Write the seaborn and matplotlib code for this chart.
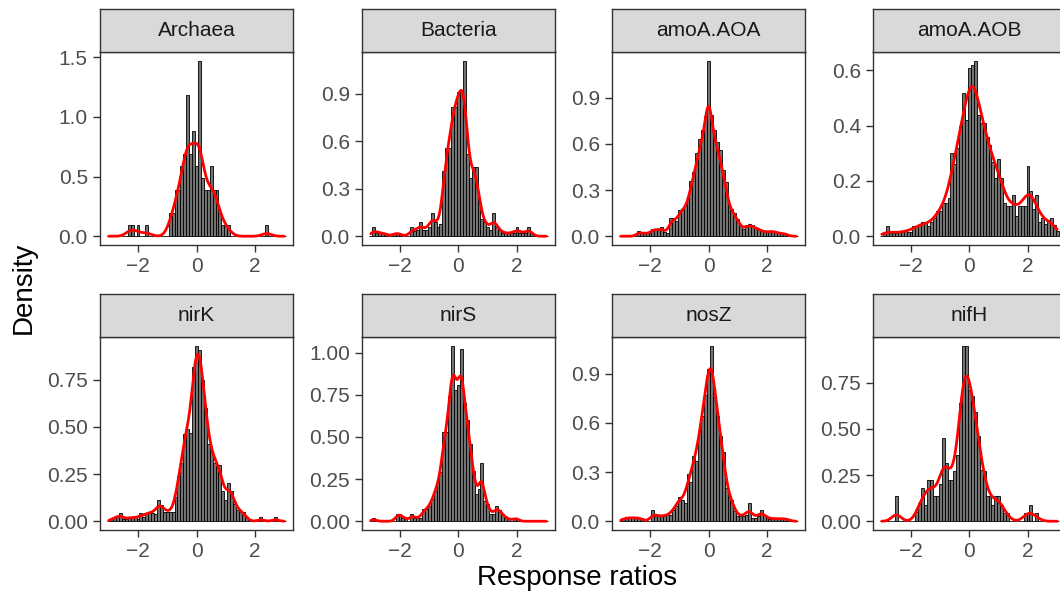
import numpy as np
import pandas as pd
import matplotlib
matplotlib.use("Agg")
import matplotlib.pyplot as plt
import seaborn as sns

# facet order, as in the reference
genes = ["Archaea", "Bacteria", "amoA.AOA", "amoA.AOB", "nirK", "nirS", "nosZ", "nifH"]

# histogram bins: width 0.1, centred on -3.0 ... 3.0
bin_centers = np.round(np.arange(-30, 31) * 0.1, 1)

# bar heights (density), one value per bin from -3.0 to 3.0
archaea = [0, 0, 0, 0, 0, 0, 0, 0.098, 0.098, 0, 0.098, 0, 0, 0.098, 0,
           0, 0, 0, 0, 0, 0,
           0.196, 0.196, 0.39, 0.39, 0.59, 0.69, 1.18, 0.69, 0.88, 0.59,
           1.47, 0.49, 0.39, 0.39, 0.59, 0.39, 0.39, 0.196, 0.098, 0.098, 0.098,
           0, 0, 0, 0, 0, 0, 0, 0, 0, 0, 0, 0, 0.098, 0, 0, 0, 0, 0, 0]
bacteria = [0, 0.06, 0.02, 0.02, 0.02, 0.02, 0, 0, 0.02, 0.02, 0.02, 0, 0, 0,
            0.06, 0.03, 0.04, 0.09, 0.04, 0.04, 0.06, 0.15, 0.09, 0.06, 0.08,
            0.41, 0.56, 0.56, 0.82, 0.82, 0.91, 0.91, 1.11, 0.52, 0.37, 0.44,
            0.44, 0.24, 0.11, 0.09, 0.06, 0.04, 0.15, 0.06, 0.04, 0.02, 0.02,
            0.02, 0.02, 0.02, 0.06, 0.02, 0.02, 0.02, 0.06, 0.02, 0, 0, 0, 0, 0]
amoa_aoa = [0, 0, 0, 0, 0, 0, 0.035, 0.02, 0.02, 0.02, 0.02, 0.05, 0.05, 0.04,
            0.06, 0.03, 0.02, 0.12, 0.12, 0.10, 0.17, 0.18, 0.20, 0.24, 0.36,
            0.42, 0.54, 0.63, 0.69, 0.78, 1.14, 0.79, 0.69, 0.61, 0.56, 0.43,
            0.35, 0.20, 0.18, 0.15, 0.11, 0.07, 0.05, 0.07, 0.08, 0.07, 0.06,
            0.05, 0.04, 0.03, 0.03, 0.035, 0.035, 0.03, 0.02, 0.02, 0.02, 0.01,
            0, 0, 0]
amoa_aob = [0, 0.01, 0.037, 0.01, 0.01, 0.01, 0.015, 0.015, 0.024, 0.015,
            0.015, 0.037, 0.037, 0.04, 0.05, 0.05, 0.037, 0.05, 0.065, 0.09,
            0.09, 0.12, 0.12, 0.14, 0.30, 0.26, 0.32, 0.40, 0.52, 0.42, 0.61,
            0.62, 0.635, 0.44, 0.41, 0.41, 0.36, 0.33, 0.27, 0.21, 0.28, 0.21,
            0.12, 0.11, 0.11, 0.15, 0.075, 0.11, 0.11, 0.11, 0.255, 0.165,
            0.10, 0.15, 0.05, 0.065, 0.045, 0.06, 0.065, 0.04, 0.02]
nirk = [0, 0.01, 0.02, 0.02, 0.044, 0.01, 0.01, 0.02, 0.02, 0.02, 0.01, 0.044,
        0.02, 0.044, 0.044, 0.044, 0.04, 0.11, 0.085, 0.05, 0.05, 0.05, 0.05,
        0.13, 0.24, 0.31, 0.46, 0.49, 0.47, 0.82, 0.93, 0.91, 0.75, 0.60,
        0.41, 0.37, 0.31, 0.29, 0.30, 0.16, 0.11, 0.20, 0.16, 0.09, 0.06,
        0.05, 0.05, 0.02, 0, 0, 0, 0, 0.02, 0, 0, 0, 0, 0.02, 0, 0, 0]
nirs = [0, 0.02, 0, 0, 0, 0, 0, 0, 0, 0.045, 0.045, 0.02, 0.02, 0, 0.045,
        0.02, 0.02, 0.02, 0.07, 0.07, 0.09, 0.13, 0.18, 0.23, 0.29, 0.53,
        0.53, 0.74, 1.04, 0.78, 0.81, 1.02, 0.70, 0.60, 0.46, 0.30, 0.16,
        0.19, 0.345, 0.12, 0.10, 0.045, 0.045, 0.09, 0.065, 0.045, 0.02,
        0.02, 0, 0.02, 0.02, 0, 0, 0, 0, 0, 0, 0, 0, 0, 0]
nosz = [0, 0.02, 0.02, 0.02, 0.02, 0.02, 0.02, 0.02, 0, 0, 0, 0.067, 0.03,
        0.03, 0.03, 0.03, 0.04, 0.04, 0.07, 0.09, 0.15, 0.13, 0.11, 0.29,
        0.24, 0.40, 0.37, 0.55, 0.64, 0.77, 0.93, 1.07, 0.76, 0.64, 0.52,
        0.42, 0.20, 0.15, 0.13, 0.06, 0.03, 0.03, 0.03, 0.04, 0.11, 0.02,
        0.02, 0.03, 0.07, 0.035, 0.02, 0.015, 0.015, 0.015, 0.015, 0.015,
        0.015, 0.015, 0, 0, 0]
nifh = [0, 0, 0, 0, 0, 0.135, 0, 0, 0, 0, 0, 0, 0.05, 0.10, 0.18, 0.09,
        0.225, 0.225, 0.135, 0.135, 0.20, 0.45, 0.315, 0.225, 0.225, 0.27,
        0.36, 0.64, 0.95, 0.95, 0.71, 0.68, 0.59, 0.46, 0.28, 0.27, 0.135,
        0.135, 0.09, 0.135, 0.135, 0.09, 0.045, 0.045, 0, 0, 0, 0, 0, 0.045,
        0.045, 0.09, 0, 0.045, 0, 0, 0, 0, 0, 0, 0]
heights = [archaea, bacteria, amoa_aoa, amoa_aob, nirk, nirs, nosz, nifh]

# kernel bandwidth of the density curve in each facet
bandwidths = [0.16, 0.115, 0.10, 0.19, 0.12, 0.095, 0.12, 0.16]

# y axis breaks per facet (free scales)
y_ticks = [[0, 0.5, 1.0, 1.5], [0, 0.3, 0.6, 0.9], [0, 0.3, 0.6, 0.9], [0, 0.2, 0.4, 0.6],
           [0, 0.25, 0.5, 0.75], [0, 0.25, 0.5, 0.75, 1.0], [0, 0.3, 0.6, 0.9],
           [0, 0.25, 0.5, 0.75]]
y_labels = [["0.0", "0.5", "1.0", "1.5"], ["0.0", "0.3", "0.6", "0.9"],
            ["0.0", "0.3", "0.6", "0.9"], ["0.0", "0.2", "0.4", "0.6"],
            ["0.00", "0.25", "0.50", "0.75"], ["0.00", "0.25", "0.50", "0.75", "1.00"],
            ["0.0", "0.3", "0.6", "0.9"], ["0.00", "0.25", "0.50", "0.75"]]
x_ticks = [-2, 0, 2]
x_labels = ["\u22122", "0", "2"]

rows = []
for g, h in zip(genes, heights):
    for x, d in zip(bin_centers, h):
        rows.append((g, x, d))
df = pd.DataFrame(rows, columns=["gene", "ratio", "density"])

sns.set_theme(style="white")
plt.rcParams["font.family"] = ["Liberation Sans", "DejaVu Sans"]

W, H = 1060, 600
fig = plt.figure(figsize=(W / 100, H / 100), dpi=100)
fig.patch.set_facecolor("white")

col_left = [100, 362, 612, 873]
row_top = [52, 337]
pw, ph, sh = 193, 193, 43
dark = "#333333"

for i, g in enumerate(genes):
    r, c = divmod(i, 4)
    x0, y0 = col_left[c], row_top[r]
    ax = fig.add_axes([x0 / W, 1 - (y0 + ph) / H, pw / W, ph / H])
    sub = df[df.gene == g]

    sns.histplot(data=sub, x="ratio", weights="density", binwidth=0.1,
                 binrange=(-3.05, 3.05), stat="count",
                 color="#737373", edgecolor="black", linewidth=0.6, alpha=1, ax=ax)

    w = sub["density"].to_numpy()
    sd = np.sqrt(np.cov(sub["ratio"].to_numpy(), aweights=w))
    sns.kdeplot(data=sub, x="ratio", weights="density", bw_method=bandwidths[i] / sd,
                cut=40, clip=(-3, 3), gridsize=400, color="red", linewidth=2.0, ax=ax)

    top = max(heights[i])
    ax.set_xlim(-3.3, 3.3)
    ax.set_ylim(-0.05 * top, 1.05 * top)
    ax.set_xticks(x_ticks)
    ax.set_xticklabels(x_labels)
    ax.set_yticks(y_ticks[i])
    ax.set_yticklabels(y_labels[i])
    ax.set_xlabel("")
    ax.set_ylabel("")
    ax.set_facecolor("white")
    for s in ax.spines.values():
        s.set_visible(True)
        s.set_color(dark)
        s.set_linewidth(1.0)
    ax.tick_params(axis="both", which="major", direction="out", length=4.8, width=1.0,
                   color=dark, labelsize=15, labelcolor="#4D4D4D", pad=4,
                   left=True, bottom=True)

    # facet strip
    sax = fig.add_axes([x0 / W, 1 - y0 / H, pw / W, sh / H])
    sax.set_facecolor("#D9D9D9")
    sax.set_xticks([])
    sax.set_yticks([])
    for s in sax.spines.values():
        s.set_visible(True)
        s.set_color(dark)
        s.set_linewidth(1.0)
    sax.text(0.5, 0.5, g, transform=sax.transAxes, ha="center", va="center",
             fontsize=15, color="#1A1A1A")

fig.text(24 / W, 1 - 288 / H, "Density", rotation=90, ha="center", va="center",
         fontsize=20, color="black")
fig.text(577 / W, 1 - 578 / H, "Response ratios", ha="center", va="center",
         fontsize=20, color="black")

fig.savefig("out.png", dpi=100)
